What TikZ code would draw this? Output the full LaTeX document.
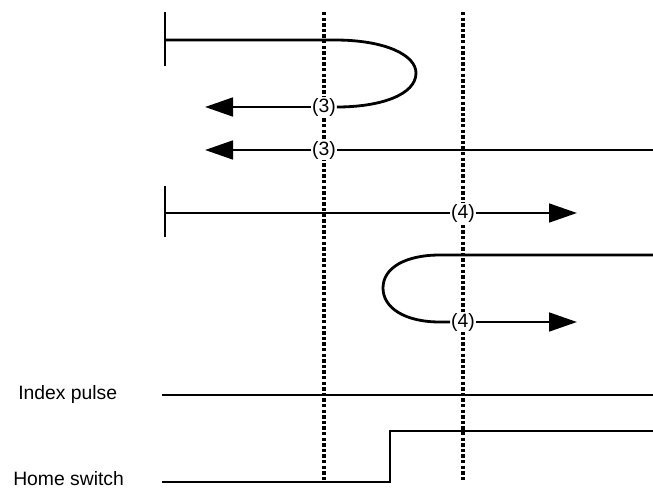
\documentclass[tikz,border=0pt]{standalone}
\usepackage{fontspec}
\setmainfont{Liberation Sans}
\usetikzlibrary{arrows.meta}
\begin{document}
\begin{tikzpicture}[x=0.75pt,y=-0.75pt,
  sig/.style={line width=2.1pt},
  guide/.style={line width=2.6pt,dash pattern=on 2.6pt off 1.6pt},
  bigtip/.style={-{Triangle[length=21pt,width=14pt]}},
  lbl/.style={fill=white,inner sep=0.6pt,font=\fontsize{14.5}{16}\selectfont},
  side/.style={font=\fontsize{14.5}{16}\selectfont,inner sep=0pt}]
\useasboundingbox (0,0) rectangle (653,489);
% guides
\coordinate (g1t) at (324,12); \coordinate (g1b) at (324,481);
\coordinate (g2t) at (463,12); \coordinate (g2b) at (463,481);
\draw[guide] (g1t) -- (g1b);
\draw[guide] (g2t) -- (g2b);
% row 1
\coordinate (b1t) at (165,12); \coordinate (b1b) at (165,66);
\draw[sig] (b1t) -- (b1b);
\coordinate (r1s) at (165,40);
\coordinate (r1e) at (205,107);
\node[lbl] (l1) at (324,107) {(3)};
\draw[sig] (r1s) -- (335,40) .. controls (385,40) and (416,55) .. (416,73)
  .. controls (416,95) and (380,107) .. (337,107) -- (l1.east);
\draw[sig,bigtip] (l1.west) -- (r1e);
% row 2
\coordinate (r2s) at (653,150);
\coordinate (r2e) at (205,150);
\node[lbl] (l2) at (324,150) {(3)};
\draw[sig] (r2s) -- (l2.east);
\draw[sig,bigtip] (l2.west) -- (r2e);
% row 3
\coordinate (b3t) at (165,186); \coordinate (b3b) at (165,237);
\draw[sig] (b3t) -- (b3b);
\coordinate (r3s) at (165,213);
\coordinate (r3e) at (577,213);
\node[lbl] (l3) at (463,213) {(4)};
\draw[sig] (r3s) -- (l3.west);
\draw[sig,bigtip] (l3.east) -- (r3e);
% row 4
\coordinate (r4s) at (653,255);
\coordinate (r4e) at (577,322);
\node[lbl] (l4) at (463,322) {(4)};
\draw[sig] (r4s) -- (440,255) .. controls (405,255) and (383,268) .. (383,288)
  .. controls (383,308) and (405,322) .. (440,322) -- (l4.west);
\draw[sig,bigtip] (l4.east) -- (r4e);
% index pulse
\node[side,anchor=west] (ip) at (18,394) {Index pulse};
\coordinate (ips) at (162,395); \coordinate (ipe) at (653,395);
\draw[sig] (ips) -- (ipe);
% home switch
\node[side,anchor=west] (hs) at (13,479) {Home switch};
\coordinate (hss) at (162,482); \coordinate (hse) at (653,431);
\draw[sig] (hss) -- (390,482) -- (390,431) -- (hse);
\end{tikzpicture}
\end{document}
